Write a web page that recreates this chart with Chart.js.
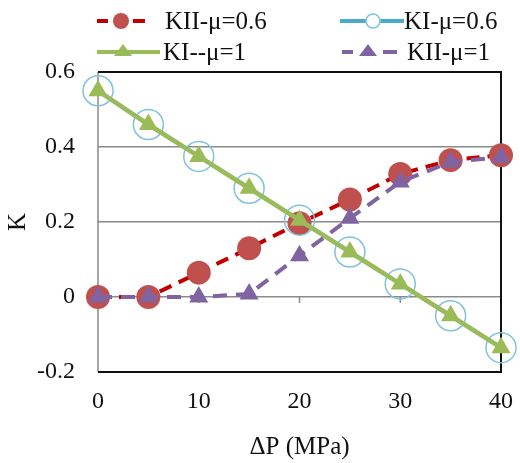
<!DOCTYPE html>
<html>
<head>
<meta charset="utf-8">
<script src="https://cdn.jsdelivr.net/npm/chart.js@4/dist/chart.umd.min.js"></script>
<style>
  html, body { margin: 0; padding: 0; background: #fff; }
  #wrap { position: relative; width: 520px; height: 463px; overflow: hidden; }
  canvas { position: absolute; left: 0; top: 0; }
  .lg { position: absolute; font-family: "Liberation Serif", "Times New Roman", serif; font-size: 25px; line-height: 30px; color: #111; white-space: nowrap; }
  .ic { position: absolute; }
</style>
</head>
<body>
<div id="wrap">
  <canvas id="c" width="520" height="463"></canvas>
  <svg class="ic" style="left:95px;top:9px" width="54" height="24">
    <line x1="2" y1="12" x2="13" y2="12" stroke="#C00000" stroke-width="4"/>
    <line x1="38" y1="12" x2="50" y2="12" stroke="#C00000" stroke-width="4"/>
    <circle cx="26" cy="12" r="8" fill="#C0504D"/>
  </svg>
  <div class="lg" style="left:165px;top:6px">KII-μ=0.6</div>
  <svg class="ic" style="left:338px;top:9px" width="68" height="24">
    <line x1="2" y1="12" x2="66" y2="12" stroke="#4BACC6" stroke-width="4"/>
    <circle cx="35" cy="12" r="7" fill="#fff" stroke="#7FC4DA" stroke-width="1.5"/>
  </svg>
  <div class="lg" style="left:404px;top:6px">KI-μ=0.6</div>
  <svg class="ic" style="left:95px;top:40px" width="68" height="24">
    <line x1="2" y1="12" x2="65" y2="12" stroke="#9BBB59" stroke-width="4"/>
    <polygon points="28,4 37,16 19,16" fill="#9BBB59"/>
  </svg>
  <div class="lg" style="left:163px;top:37px">KI--μ=1</div>
  <svg class="ic" style="left:340px;top:40px" width="60" height="24">
    <line x1="2" y1="12" x2="13" y2="12" stroke="#8064A2" stroke-width="4"/>
    <line x1="43" y1="12" x2="57" y2="12" stroke="#8064A2" stroke-width="4"/>
    <polygon points="28,4 37,16 19,16" fill="#8064A2"/>
  </svg>
  <div class="lg" style="left:407px;top:37px">KII-μ=1</div>
</div>
<script>
const xValues = [0, 5, 10, 15, 20, 25, 30, 35, 40];
const kiiMu06 = [0, 0, 0.065, 0.13, 0.197, 0.26, 0.328, 0.365, 0.378];
const kiMu06  = [0.55, 0.46, 0.375, 0.29, 0.205, 0.12, 0.035, -0.05, -0.135];
const kiMu1   = [0.55, 0.46, 0.375, 0.29, 0.205, 0.12, 0.035, -0.05, -0.135];
const kiiMu1  = [0, 0, 0, 0.008, 0.11, 0.21, 0.307, 0.36, 0.373];
const xTicks = [0, 10, 20, 30, 40];
const yTicks = [-0.2, 0, 0.2, 0.4, 0.6];
const seriesNames = ["KII-μ=0.6", "KI-μ=0.6", "KI--μ=1", "KII-μ=1"];

const pts = arr => xValues.map((x, i) => ({ x: x, y: arr[i] }));
const FONT = "'Liberation Serif', 'Times New Roman', serif";

const framePlugin = {
  id: 'frame',
  beforeDatasetsDraw(chart) {
    const { ctx, chartArea: a, scales } = chart;
    ctx.save();
    ctx.strokeStyle = '#8a8a8a';
    ctx.lineWidth = 1.5;
    ctx.beginPath();
    ctx.moveTo(a.left, a.top);
    ctx.lineTo(a.left, a.bottom);
    ctx.stroke();
    const y0 = scales.y.getPixelForValue(0);
    ctx.beginPath();
    xTicks.forEach(v => {
      const px = scales.x.getPixelForValue(v);
      ctx.moveTo(px, y0);
      ctx.lineTo(px, y0 + 6);
    });
    ctx.stroke();
    ctx.strokeStyle = '#111';
    ctx.lineWidth = 2;
    ctx.beginPath();
    ctx.moveTo(a.left, a.top);
    ctx.lineTo(a.right, a.top);
    ctx.lineTo(a.right, a.bottom);
    ctx.lineTo(a.left, a.bottom);
    ctx.stroke();
    ctx.restore();
  }
};

new Chart(document.getElementById('c'), {
  type: 'line',
  data: {
    datasets: [
      {
        label: seriesNames[0], data: pts(kiiMu06), order: 4,
        borderColor: '#C00000', borderWidth: 4, borderDash: [13, 8],
        pointStyle: 'circle', pointRadius: 12, pointBackgroundColor: '#C0504D',
        pointBorderColor: '#C0504D', pointBorderWidth: 0, clip: false
      },
      {
        label: seriesNames[1], data: pts(kiMu06), order: 3,
        borderColor: '#4BACC6', borderWidth: 4,
        pointStyle: 'circle', pointRadius: 15, pointBackgroundColor: 'rgba(0,0,0,0)',
        pointBorderColor: '#7FC4DA', pointBorderWidth: 1.5, clip: false
      },
      {
        label: seriesNames[2], data: pts(kiMu1), order: 2,
        borderColor: '#9BBB59', borderWidth: 4.5,
        pointStyle: 'triangle', pointRadius: 11, pointBackgroundColor: '#9BBB59',
        pointBorderColor: '#9BBB59', pointBorderWidth: 0, clip: false
      },
      {
        label: seriesNames[3], data: pts(kiiMu1), order: 1,
        borderColor: '#8064A2', borderWidth: 4, borderDash: [14, 9],
        pointStyle: 'triangle', pointRadius: 11, pointBackgroundColor: '#8064A2',
        pointBorderColor: '#8064A2', pointBorderWidth: 0, clip: false
      }
    ]
  },
  options: {
    responsive: false,
    animation: false,
    layout: { padding: { left: 0, right: 12, top: 72, bottom: 0 } },
    plugins: { legend: { display: false }, tooltip: { enabled: false } },
    elements: { line: { tension: 0 } },
    scales: {
      x: {
        type: 'linear', min: 0, max: 40,
        afterBuildTicks: s => { s.ticks = xTicks.map(v => ({ value: v })); },
        afterFit: s => { s.height = 91; },
        grid: { display: false },
        border: { display: false },
        ticks: { padding: 7, color: '#111', font: { family: FONT, size: 24 }, maxRotation: 0 },
        title: { display: true, text: 'ΔP (MPa)', color: '#111', font: { family: FONT, size: 25 }, padding: { top: 0, bottom: 1 } }
      },
      y: {
        type: 'linear', min: -0.2, max: 0.6,
        afterBuildTicks: s => { s.ticks = yTicks.map(v => ({ value: v })); },
        afterFit: s => { s.width = 98; },
        grid: {
          drawTicks: false, lineWidth: 1.5,
          color: c => (c.tick && (Math.abs(c.tick.value - 0.6) < 1e-9 || Math.abs(c.tick.value + 0.2) < 1e-9)) ? 'rgba(0,0,0,0)' : '#8a8a8a'
        },
        border: { display: false },
        ticks: {
          padding: 23, color: '#111', font: { family: FONT, size: 24 },
          callback: v => String(Math.round(v * 10) / 10)
        },
        title: { display: true, text: 'K', color: '#111', font: { family: FONT, size: 25 }, padding: { top: 3, bottom: 0 } }
      }
    }
  },
  plugins: [framePlugin]
});
</script>
</body>
</html>
